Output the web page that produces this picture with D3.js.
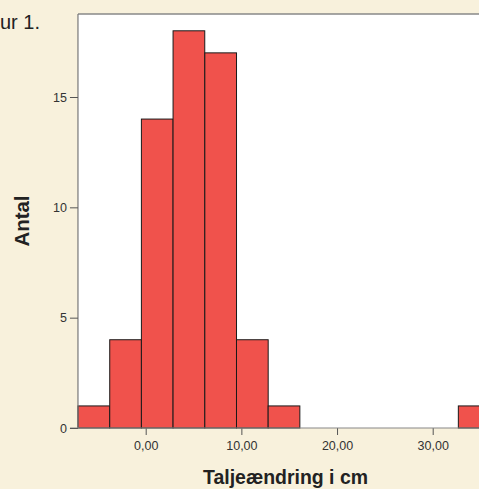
<!DOCTYPE html>
<html><head><meta charset="utf-8">
<script src="https://cdn.jsdelivr.net/npm/d3@7"></script>
<style>html,body{margin:0;padding:0;background:#f8f1dc;overflow:hidden}</style>
</head><body>
<svg id="c" width="479" height="489"></svg>
<script>
const binStarts = [-7.08, -3.76, -0.45, 2.86, 6.18, 9.49, 12.80, 16.12, 19.43, 22.74, 26.06, 29.37, 32.68];
const binWidth = 3.313;
const counts = [1, 4, 14, 18, 17, 4, 1, 0, 0, 0, 0, 0, 1];
const xTicks = [0, 10, 20, 30];
const yTicks = [0, 5, 10, 15];

(function(){
const svg = d3.select("#c");
const ff = "Liberation Sans, Arial, sans-serif";
svg.append("rect").attr("width",479).attr("height",489).attr("fill","#f8f1dc");

const x = d3.scaleLinear().domain([0,30]).range([145.7,432.7]);
const y = d3.scaleLinear().domain([0,15]).range([428,97]);
const pl = x(binStarts[0]), pt = 14, pb = y(0), pr = 520;

svg.append("rect").attr("x",pl).attr("y",pt).attr("width",pr-pl).attr("height",pb-pt).attr("fill","#fff");

const bars = svg.append("g");
counts.forEach((c,i)=>{
  if(c<=0) return;
  bars.append("rect")
    .attr("x", x(binStarts[i]))
    .attr("y", y(c))
    .attr("width", x(binStarts[i]+binWidth)-x(binStarts[i]))
    .attr("height", y(0)-y(c))
    .attr("fill","#f0524c").attr("stroke","#1a1a1a").attr("stroke-width",1);
});

svg.append("line").attr("x1",pl).attr("x2",pr).attr("y1",pt).attr("y2",pt).attr("stroke","#888").attr("stroke-width",1.5);
svg.append("line").attr("x1",pl).attr("x2",pl).attr("y1",pt).attr("y2",pb).attr("stroke","#777").attr("stroke-width",1.2);

const xa = svg.append("g").attr("transform",`translate(0,${pb})`)
  .call(d3.axisBottom(x).tickValues(xTicks).tickSize(7).tickPadding(6).tickFormat(d=>d3.format(".2f")(d).replace(".",",")));
xa.select(".domain").remove();
svg.append("line").attr("x1",pl-8).attr("x2",pr).attr("y1",pb).attr("y2",pb).attr("stroke","#888").attr("stroke-width",1.2);
xa.selectAll("line").attr("stroke","#555");
xa.selectAll("text").attr("fill","#333").style("font-family",ff).style("font-size","12.5px");

const ya = svg.append("g").attr("transform",`translate(${pl},0)`)
  .call(d3.axisLeft(y).tickValues(yTicks).tickSize(8).tickPadding(3));
ya.select(".domain").remove();
ya.selectAll("line").attr("stroke","#555");
ya.selectAll("text").attr("fill","#333").style("font-family",ff).style("font-size","12.5px");

svg.append("text").attr("x",0).attr("y",29).text("ur 1.")
  .attr("fill","#222").style("font-family",ff).style("font-size","20px");
svg.append("text").attr("transform","translate(29,221) rotate(-90)").attr("text-anchor","middle").text("Antal")
  .attr("textLength",51).attr("lengthAdjust","spacingAndGlyphs")
  .attr("fill","#222").style("font-family",ff).style("font-size","20px").style("font-weight","bold");
svg.append("text").attr("x",285.5).attr("y",484).attr("text-anchor","middle").text("Taljeændring i cm")
  .attr("textLength",165).attr("lengthAdjust","spacingAndGlyphs")
  .attr("fill","#222").style("font-family",ff).style("font-size","21px").style("font-weight","bold");
})();
</script>
</body></html>
